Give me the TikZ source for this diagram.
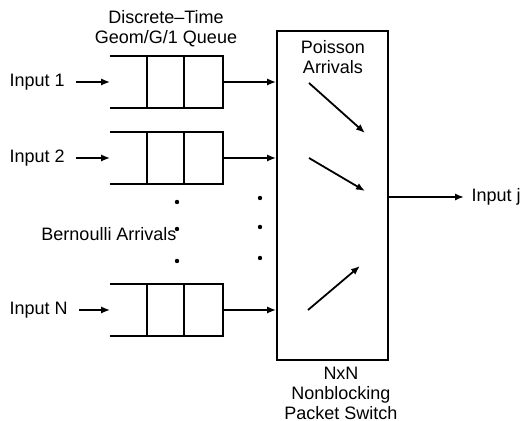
\documentclass[tikz,border=0pt]{standalone}
\usepackage{fontspec}
\setmainfont{Liberation Sans}
\usetikzlibrary{arrows.meta,positioning}
\tikzset{
  arr/.style={-{Latex[length=4.5pt,width=3.6pt]},line width=0.9pt},
  lbl/.style={font=\fontsize{9}{10}\selectfont,align=center},
  queuebox/.style={minimum width=55.5pt,minimum height=25pt,inner sep=0pt},
}
\begin{document}
\begin{tikzpicture}[x=0.5pt,y=-0.5pt,line width=0.9pt]
      \useasboundingbox (0,0) rectangle (521,421);
      \node[draw,minimum width=55.5pt,minimum height=164.5pt,inner sep=0pt] (sw) at (332.5,195.5) {};
      \node[queuebox] (q1) at (166.5,82) {};
      \node[queuebox] (q2) at (166.5,158) {};
      \node[queuebox] (qN) at (166.5,310) {};
      \foreach \q in {q1,q2,qN} {
        \draw (\q.north west) -- (\q.north east) -- (\q.south east) -- (\q.south west);
        \draw ([xshift=18.5pt]\q.north west) -- ([xshift=18.5pt]\q.south west);
        \draw ([xshift=37pt]\q.north west) -- ([xshift=37pt]\q.south west);
        \draw[arr] (\q) -- (\q -| sw.west);
      }
      \node[lbl,anchor=west] (in1) at (2,82) {Input 1};
      \node[lbl,anchor=west] (in2) at (2,158) {Input 2};
      \node[lbl,anchor=west] (inN) at (2,310) {Input N};
      \draw[arr,shorten <=2pt] (in1) -- (q1);
      \draw[arr,shorten <=2pt] (in2) -- (q2);
      \draw[arr,shorten <=2pt] (inN) -- (qN);
      \node[lbl,anchor=west] (out) at (464,197) {Input j};
      \draw[arr] (sw.east |- out) -- (out);
      \node[lbl] (qname) at (166,29) {Discrete--Time\\Geom/G/1 Queue};
      \node[lbl] (poisson) at (333,57) {Poisson\\Arrivals};
      \node[lbl] (bern) at (109,234) {Bernoulli Arrivals};
      \node[lbl] (swname) at (341,393) {NxN\\Nonblocking\\Packet Switch};
      \foreach \i/\sx/\sy/\ex/\ey in {1/309/83/365/133,2/309/158/365/191,3/308/310/360/266} {
        \coordinate (s\i) at (\sx,\sy);
        \coordinate (e\i) at (\ex,\ey);
        \draw[arr] (s\i) -- (e\i);
      }
      \foreach \y in {202,229,261} \fill (177,\y) circle (1.1pt);
      \foreach \y in {198,227,258} \fill (260,\y) circle (1.1pt);
    \end{tikzpicture}
\end{document}
